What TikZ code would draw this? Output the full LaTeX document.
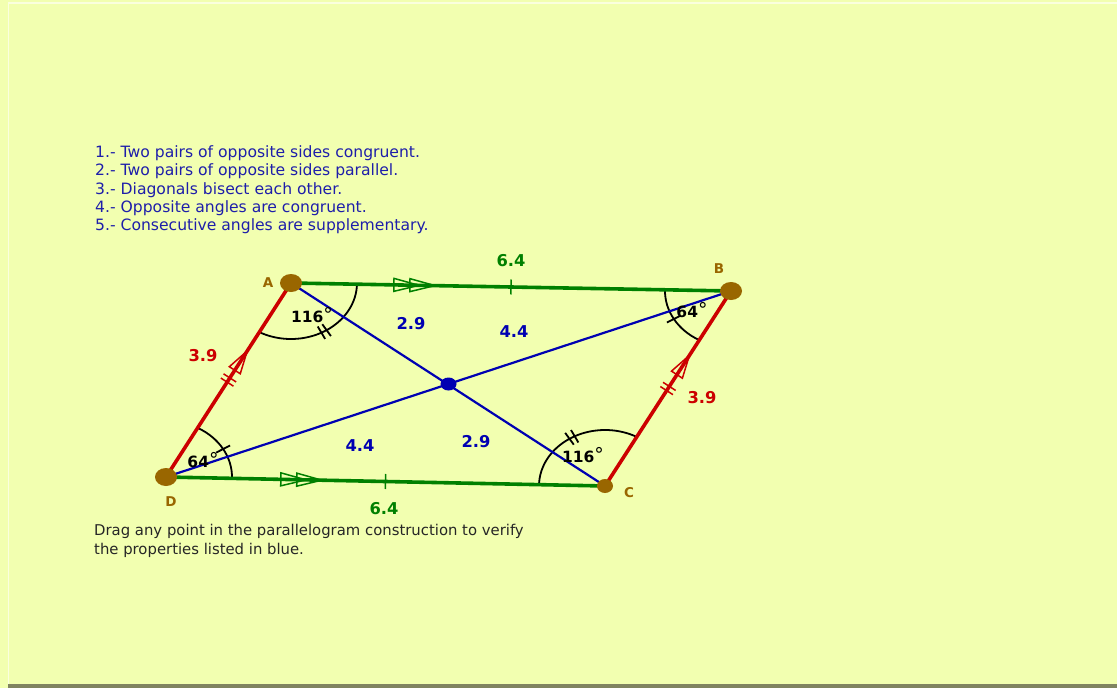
\documentclass[tikz,border=0pt]{standalone}
\usepackage{fontspec}
\setmainfont{DejaVu Sans}
\usetikzlibrary{calc,decorations.markings,shapes.geometric}
\definecolor{bgcol}{RGB}{242,255,176}
\definecolor{ggreen}{RGB}{0,128,0}
\definecolor{gred}{RGB}{204,0,0}
\definecolor{gblue}{RGB}{0,0,178}
\definecolor{tblue}{RGB}{30,30,170}
\definecolor{gbrown}{RGB}{153,102,0}
\definecolor{framecol}{RGB}{128,132,96}
\definecolor{framelight}{RGB}{250,255,222}
\tikzset{
  sideline/.style={line width=3.6pt},
  diag/.style={gblue, line width=2.2pt},
  arcline/.style={black, line width=1.8pt},
  listtext/.style={anchor=base west, inner sep=0pt, text=tblue, font=\fontsize{15.6}{18}\selectfont},
  notetext/.style={anchor=base west, inner sep=0pt, text=black!85, font=\fontsize{14.85}{18}\selectfont},
  measure/.style={inner sep=0pt, font=\fontsize{16.3}{18}\selectfont\bfseries},
  anglabel/.style={inner sep=0pt, text=black, font=\fontsize{15.5}{18}\selectfont\bfseries},
  vlabel/.style={inner sep=0pt, text=gbrown, font=\fontsize{13.5}{16}\selectfont\bfseries},
  bigpoint/.style={ellipse, fill=gbrown, inner sep=0pt, minimum width=22pt, minimum height=18pt},
  twoarrow/.style 2 args={postaction={decorate, decoration={markings,
      mark=at position #1 with {\draw[#2, line width=1.5pt, line join=miter]
        (0,0) -- (-25,6.5) -- (-25,-6.5) -- cycle
        (-16,0) -- (-41,6.5) -- (-41,-6.5) -- cycle;},
      mark=at position 0.5 with {\draw[#2, line width=1.5pt] (0,-7.5) -- (0,7.5);}}}},
  onearrow/.style 2 args={postaction={decorate, decoration={markings,
      mark=at position #1 with {\draw[#2, line width=1.5pt, line join=miter]
        (0,0) -- (-23,6.5) -- (-23,-6.5) -- cycle;},
      mark=at position 0.5 with {\draw[#2, line width=1.5pt]
        (-2.5,-7.5) -- (-2.5,7.5) (2.5,-7.5) -- (2.5,7.5);}}}},
}
% angle arc at vertex #1, counterclockwise from ray to #2 to ray to #3, #4 ticks
\newcommand\angarcmark[4]{%
  \draw[arcline] let \p1=($(#2)-(#1)$), \p2=($(#3)-(#1)$),
    \n1={atan2(\y1/56,\x1/66)}, \n2={atan2(\y2/56,\x2/66)},
    \n3={mod(\n2-\n1+720,360)}, \n4={\n1+\n3/2},
    \n5={\n1+\n3/2-2.6}, \n6={\n1+\n3/2+2.6} in
    (#1) ++(\n1:66pt and 56pt) arc[start angle=\n1, delta angle=\n3, x radius=66pt, y radius=56pt]
    \ifnum#4=1
      ($(#1)+(\n4:58pt and 49pt)$) -- ($(#1)+(\n4:74pt and 63pt)$)
    \else
      ($(#1)+(\n5:58pt and 49pt)$) -- ($(#1)+(\n5:74pt and 63pt)$)
      ($(#1)+(\n6:58pt and 49pt)$) -- ($(#1)+(\n6:74pt and 63pt)$)
    \fi;}
\newcommand\degsign{\raisebox{1.5pt}{\mdseries\fontsize{19}{19}\selectfont°}}
\begin{document}
\begin{tikzpicture}[x=1pt,y=-1pt]
\useasboundingbox (0,0) rectangle (1117,688);
\fill[bgcol] (0,0) rectangle (1117,688);
\draw[framelight, line width=1.5pt] (8.5,688) -- (8.5,3) -- (1117,3);
\fill[framecol] (8,684) rectangle (1117,688);

% list
\node[listtext] (l1) at (95,157.3) {1.- Two pairs of opposite sides congruent.};
\node[listtext] (l2) at (95,175.7) {2.- Two pairs of opposite sides parallel.};
\node[listtext] (l3) at (95,194.1) {3.- Diagonals bisect each other.};
\node[listtext] (l4) at (95,212.5) {4.- Opposite angles are congruent.};
\node[listtext] (l5) at (95,230.9) {5.- Consecutive angles are supplementary.};

% vertices
\coordinate (A) at (291,283);
\coordinate (B) at (731,291);
\coordinate (C) at (605,486);
\coordinate (D) at (166,477);
\coordinate (M) at (448.5,384);

% angle arcs
\angarcmark{A}{D}{B}{2}
\angarcmark{B}{A}{C}{1}
\angarcmark{C}{B}{D}{2}
\angarcmark{D}{C}{A}{1}

% diagonals
\draw[diag] (A) -- (C);
\draw[diag] (D) -- (B);

% sides
\draw[sideline, ggreen, twoarrow={0.327}{ggreen}] (A) -- (B);
\draw[sideline, ggreen, twoarrow={0.355}{ggreen}] (D) -- (C);
\draw[sideline, gred, onearrow={0.65}{gred}] (D) -- (A);
\draw[sideline, gred, onearrow={0.67}{gred}] (C) -- (B);

% points
\node[bigpoint] (pA) at (A) {};
\node[bigpoint] (pB) at (B) {};
\node[bigpoint] (pD) at (D) {};
\node[ellipse, fill=gbrown, inner sep=0pt, minimum width=16pt, minimum height=14pt] (pC) at (C) {};
\node[ellipse, fill=gblue, inner sep=0pt, minimum width=16pt, minimum height=13pt] (pM) at (M) {};

% vertex labels
\node[vlabel] (lA) at (268,283) {A};
\node[vlabel] (lB) at (719,269) {B};
\node[vlabel] (lC) at (629,493) {C};
\node[vlabel] (lD) at (171,502) {D};

% measures
\node[measure, text=ggreen] (mAB) at (511,261) {6.4};
\node[measure, text=ggreen] (mDC) at (384,509) {6.4};
\node[measure, text=gred] (mAD) at (203,356) {3.9};
\node[measure, text=gred] (mBC) at (702,398) {3.9};
\node[measure, text=gblue] (mAM) at (411,324) {2.9};
\node[measure, text=gblue] (mBM) at (514,332) {4.4};
\node[measure, text=gblue] (mDM) at (360,446) {4.4};
\node[measure, text=gblue] (mCM) at (476,442) {2.9};

% angle labels
\node[anglabel] (aA) at (312,315) {116\degsign};
\node[anglabel] (aB) at (692,310) {64\degsign};
\node[anglabel] (aC) at (583,455) {116\degsign};
\node[anglabel] (aD) at (203,460) {64\degsign};

% note
\node[notetext] (n1) at (94,535.7) {Drag any point in the parallelogram construction to verify};
\node[notetext] (n2) at (94,554) {the properties listed in blue.};
\end{tikzpicture}
\end{document}
